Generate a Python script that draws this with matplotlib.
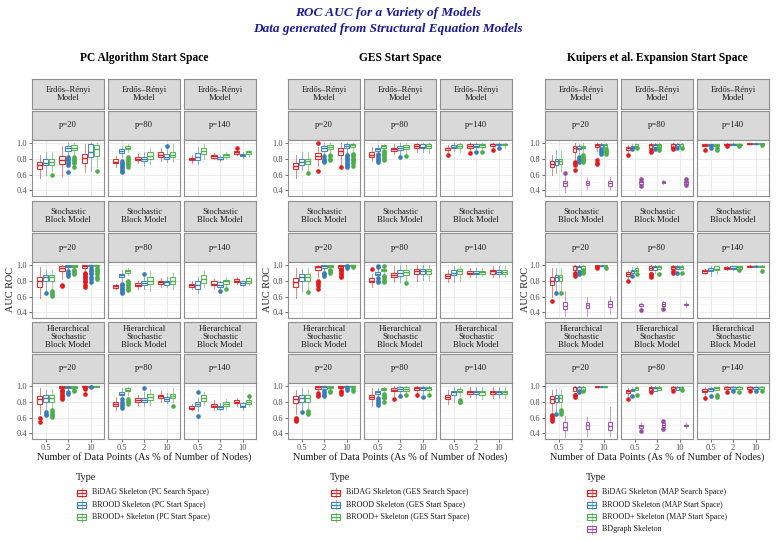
import matplotlib
matplotlib.use('Agg')
import matplotlib.pyplot as plt
from matplotlib.patches import Rectangle
from matplotlib.lines import Line2D

plt.rcParams['font.family'] = ['Liberation Serif', 'DejaVu Serif']

# ---------------- data ----------------
MODELS = ['Erdős–Rényi\nModel', 'Stochastic\nBlock Model', 'Hierarchical\nStochastic\nBlock Model']
P_LABELS = ['p=20', 'p=80', 'p=140']
N_LABELS = ['0.5', '2', '10']
SPACES = ['PC Algorithm Start Space', 'GES Start Space', 'Kuipers et al. Expansion Start Space']
COLORS = ['#E41A1C', '#377EB8', '#4DAF4A', '#984EA3']
LEGEND_PC = ['BiDAG Skeleton (PC Search Space)', 'BROOD Skeleton (PC Start Space)', 'BROOD+ Skeleton (PC Start Space)']
LEGEND_GES = ['BiDAG Skeleton (GES Search Space)', 'BROOD Skeleton (GES Start Space)', 'BROOD+ Skeleton (GES Start Space)']
LEGEND_K = ['BiDAG Skeleton (MAP Search Space)', 'BROOD Skeleton (MAP Start Space)', 'BROOD+ Skeleton (MAP Start Space)', 'BDgraph Skeleton']

# box stats: (whisker low, q1, median, q3, whisker high), indexed [p][n][type]
PC_ER = [
    [[(0.56,0.67,0.72,0.76,0.85),(0.60,0.72,0.75,0.79,0.88),(0.64,0.72,0.76,0.79,0.88)],
     [(0.58,0.73,0.78,0.83,0.96),(0.85,0.90,0.93,0.96,1.00),(0.86,0.91,0.94,0.97,1.00)],
     [(0.63,0.74,0.81,0.86,0.98),(0.65,0.82,0.89,0.98,1.00),(0.70,0.83,0.92,0.97,1.00)]],
    [[(0.70,0.74,0.76,0.79,0.83),(0.82,0.87,0.90,0.92,0.96),(0.88,0.92,0.94,0.96,0.99)],
     [(0.74,0.78,0.80,0.82,0.86),(0.71,0.77,0.80,0.82,0.88),(0.73,0.80,0.83,0.88,0.94)],
     [(0.77,0.82,0.85,0.88,0.93),(0.76,0.80,0.82,0.86,0.93),(0.76,0.82,0.85,0.89,0.98)]],
    [[(0.75,0.78,0.80,0.81,0.84),(0.73,0.78,0.82,0.87,0.95),(0.80,0.86,0.90,0.94,0.99)],
     [(0.79,0.81,0.83,0.85,0.87),(0.77,0.79,0.80,0.82,0.84),(0.80,0.82,0.84,0.86,0.88)],
     [(0.84,0.86,0.88,0.90,0.92),(0.81,0.83,0.85,0.86,0.88),(0.82,0.86,0.88,0.90,0.91)]],
]
PC_ER_OUT = {(0,0,2):[0.59], (0,1,1):[0.63,0.72,0.74,0.76,0.78,0.80,0.82],
             (0,1,2):[0.69,0.74,0.76,0.78,0.80,0.82], (0,2,2):[0.65],
             (1,0,1):[0.63,0.65,0.67,0.69,0.71,0.73,0.75,0.77],
             (1,0,2):[0.70,0.72,0.74,0.76,0.78,0.80,0.82], (1,2,1):[0.96], (2,2,0):[0.94]}

PC_SBM = [
    [[(0.58,0.72,0.79,0.85,0.97),(0.66,0.79,0.84,0.87,0.93),(0.68,0.79,0.84,0.87,0.94)],
     [(0.82,0.92,0.96,0.99,1.00),(0.95,0.97,0.99,1.00,1.00),(0.96,0.97,0.99,1.00,1.00)],
     [(0.92,0.96,0.99,1.00,1.00),(0.97,0.98,1.00,1.00,1.00),(0.97,0.98,1.00,1.00,1.00)]],
    [[(0.69,0.71,0.73,0.74,0.76),(0.80,0.84,0.87,0.89,0.93),(0.87,0.90,0.92,0.93,0.96)],
     [(0.70,0.73,0.75,0.77,0.80),(0.70,0.74,0.77,0.80,0.84),(0.67,0.76,0.80,0.84,0.92)],
     [(0.72,0.76,0.78,0.80,0.83),(0.72,0.75,0.78,0.80,0.84),(0.70,0.76,0.80,0.84,0.90)]],
    [[(0.70,0.72,0.74,0.76,0.79),(0.65,0.70,0.75,0.79,0.84),(0.72,0.77,0.82,0.87,0.92)],
     [(0.71,0.74,0.76,0.79,0.82),(0.69,0.72,0.75,0.78,0.80),(0.72,0.76,0.79,0.81,0.84)],
     [(0.76,0.78,0.80,0.82,0.84),(0.73,0.75,0.77,0.79,0.80),(0.74,0.77,0.80,0.83,0.86)]],
]
PC_SBM_OUT = {(0,0,1):[0.64], (0,0,2):[0.61,0.63,0.65,0.67], (0,1,0):[0.73,0.74],
              (0,1,1):[0.86,0.88,0.90,0.92], (0,1,2):[0.88,0.90,0.92,0.94],
              (0,2,0):[0.72,0.75,0.78,0.80,0.82,0.84,0.86,0.88,0.90],
              (0,2,1):[0.78,0.82,0.85,0.88,0.90,0.92,0.94,0.96],
              (0,2,2):[0.82,0.85,0.88,0.90,0.92,0.94,0.96],
              (1,0,1):[0.64,0.66,0.68,0.70,0.72,0.74,0.76],
              (1,0,2):[0.68,0.70,0.72,0.74,0.76,0.78,0.80], (1,1,1):[0.89],
              (2,1,1):[0.67], (2,1,2):[0.70]}

PC_HSBM = [
    [[(0.65,0.77,0.83,0.87,0.97),(0.71,0.79,0.84,0.88,0.95),(0.72,0.80,0.85,0.88,0.96)],
     [(0.96,0.97,0.99,1.00,1.00),(0.93,0.97,0.99,1.00,1.00),(0.96,0.97,0.99,1.00,1.00)],
     [(0.98,0.98,1.00,1.00,1.00),(0.99,0.99,1.00,1.00,1.00),(0.99,0.99,1.00,1.00,1.00)]],
    [[(0.69,0.75,0.77,0.80,0.86),(0.84,0.88,0.90,0.92,0.97),(0.89,0.93,0.95,0.97,0.99)],
     [(0.76,0.80,0.82,0.84,0.89),(0.74,0.79,0.82,0.85,0.92),(0.76,0.82,0.86,0.90,0.96)],
     [(0.79,0.84,0.87,0.89,0.94),(0.78,0.81,0.83,0.86,0.91),(0.79,0.84,0.87,0.90,0.97)]],
    [[(0.69,0.71,0.72,0.74,0.77),(0.68,0.74,0.77,0.80,0.85),(0.76,0.81,0.84,0.88,0.92)],
     [(0.70,0.73,0.75,0.77,0.82),(0.69,0.71,0.73,0.75,0.78),(0.71,0.74,0.77,0.80,0.83)],
     [(0.75,0.78,0.80,0.82,0.85),(0.70,0.73,0.75,0.78,0.80),(0.74,0.77,0.80,0.82,0.86)]],
]
PC_HSBM_OUT = {(0,0,0):[0.55,0.60], (0,0,1):[0.63,0.65,0.67], (0,0,2):[0.61,0.63,0.65,0.67,0.70],
               (0,1,0):[0.83,0.85,0.87,0.89,0.91,0.93,0.95], (0,1,1):[0.90,0.92], (0,1,2):[0.93,0.95],
               (0,2,0):[0.90,0.96,0.97], (0,2,1):[0.98],
               (1,0,1):[0.72,0.74,0.77,0.80,0.83], (1,0,2):[0.77,0.79,0.81,0.83], (1,1,1):[0.97],
               (1,2,2):[0.74], (2,0,1):[0.62,0.92], (2,2,2):[0.87]}

GES_ER = [
    [[(0.56,0.67,0.71,0.74,0.84),(0.66,0.72,0.76,0.79,0.89),(0.66,0.73,0.77,0.80,0.88)],
     [(0.71,0.80,0.83,0.87,0.95),(0.84,0.90,0.93,0.96,1.00),(0.87,0.92,0.95,0.97,1.00)],
     [(0.72,0.85,0.90,0.94,1.00),(0.86,0.93,0.96,0.99,1.00),(0.88,0.95,0.97,0.99,1.00)]],
    [[(0.77,0.82,0.85,0.88,0.95),(0.87,0.90,0.92,0.93,0.97),(0.92,0.94,0.96,0.97,0.99)],
     [(0.86,0.90,0.92,0.94,0.99),(0.85,0.91,0.93,0.96,1.00),(0.87,0.92,0.95,0.97,1.00)],
     [(0.88,0.93,0.96,0.98,1.00),(0.88,0.93,0.95,0.98,1.00),(0.87,0.93,0.96,0.98,1.00)]],
    [[(0.88,0.91,0.93,0.94,0.97),(0.90,0.93,0.95,0.97,1.00),(0.89,0.93,0.96,0.99,1.00)],
     [(0.90,0.94,0.96,0.98,1.00),(0.92,0.95,0.96,0.98,1.00),(0.91,0.95,0.97,0.98,1.00)],
     [(0.93,0.96,0.98,0.99,1.00),(0.95,0.97,0.98,0.99,1.00),(0.94,0.97,0.98,0.99,1.00)]],
]
GES_ER_OUT = {(0,0,2):[0.62], (0,1,0):[0.65,1.00], (0,1,1):[0.76,0.78,0.80,0.83],
              (0,1,2):[0.78,0.80,0.83,0.85], (0,2,0):[0.70],
              (0,2,1):[0.69,0.71,0.73,0.75,0.77,0.79,0.81,0.83,0.85],
              (0,2,2):[0.71,0.74,0.76,0.78,0.80,0.82,0.84,0.86],
              (1,0,1):[0.76,0.78,0.80,0.82,0.84,0.86], (1,0,2):[0.78,0.80,0.82,0.84,0.86,0.88,0.90],
              (1,1,1):[0.82], (1,1,2):[0.83], (2,0,0):[0.85], (2,1,0):[0.87], (2,1,1):[0.89],
              (2,1,2):[0.88], (2,2,0):[0.91], (2,2,1):[0.93]}

GES_SBM = [
    [[(0.58,0.72,0.78,0.83,0.96),(0.67,0.79,0.84,0.88,0.95),(0.70,0.80,0.85,0.88,0.96)],
     [(0.84,0.93,0.97,0.99,1.00),(0.92,0.96,0.98,1.00,1.00),(0.95,0.97,0.98,1.00,1.00)],
     [(0.96,0.96,0.99,1.00,1.00),(0.99,0.99,1.00,1.00,1.00),(0.99,0.99,1.00,1.00,1.00)]],
    [[(0.72,0.78,0.80,0.83,0.89),(0.83,0.87,0.89,0.91,0.95),(0.88,0.92,0.93,0.95,0.98)],
     [(0.78,0.84,0.87,0.90,0.99),(0.78,0.86,0.90,0.93,1.00),(0.80,0.87,0.91,0.94,1.00)],
     [(0.80,0.88,0.92,0.95,1.00),(0.81,0.88,0.92,0.95,1.00),(0.81,0.88,0.92,0.95,1.00)]],
    [[(0.78,0.83,0.86,0.88,0.93),(0.78,0.87,0.90,0.93,0.99),(0.80,0.88,0.92,0.95,0.99)],
     [(0.85,0.88,0.90,0.92,0.96),(0.85,0.88,0.90,0.92,0.96),(0.86,0.89,0.91,0.92,0.96)],
     [(0.84,0.89,0.92,0.94,0.99),(0.84,0.89,0.91,0.94,0.98),(0.84,0.89,0.91,0.94,0.98)]],
]
GES_SBM_OUT = {(0,0,2):[0.66], (0,1,0):[0.70,0.73,0.76,0.78,0.80], (0,1,1):[0.86,0.88,0.90],
               (0,1,2):[0.90,0.92,0.94], (0,2,0):[0.84,0.86,0.88,0.90,0.92,0.94,0.95],
               (0,2,1):[0.96,0.98], (0,2,2):[0.97], (1,0,0):[0.95],
               (1,0,1):[0.78,0.80,0.83,0.97,0.98], (1,0,2):[0.78,0.80,0.82,0.84,0.86,0.99],
               (1,1,2):[0.77]}

GES_HSBM = [
    [[(0.65,0.78,0.83,0.87,0.95),(0.68,0.79,0.84,0.88,0.97),(0.68,0.80,0.85,0.88,0.96)],
     [(0.92,0.96,0.98,1.00,1.00),(0.94,0.96,0.98,1.00,1.00),(0.96,0.97,0.99,1.00,1.00)],
     [(0.96,0.97,0.99,1.00,1.00),(0.99,0.99,1.00,1.00,1.00),(0.99,0.99,1.00,1.00,1.00)]],
    [[(0.74,0.83,0.86,0.89,0.97),(0.86,0.90,0.92,0.94,0.97),(0.93,0.95,0.96,0.97,0.99)],
     [(0.87,0.93,0.95,0.97,1.00),(0.88,0.93,0.96,0.98,1.00),(0.90,0.94,0.96,0.98,1.00)],
     [(0.91,0.95,0.97,0.99,1.00),(0.90,0.95,0.97,0.99,1.00),(0.90,0.95,0.97,0.99,1.00)]],
    [[(0.77,0.83,0.86,0.88,0.95),(0.80,0.89,0.92,0.94,0.99),(0.87,0.92,0.94,0.96,0.99)],
     [(0.86,0.90,0.92,0.94,0.98),(0.85,0.90,0.92,0.94,0.98),(0.83,0.89,0.92,0.94,0.98)],
     [(0.85,0.90,0.92,0.94,0.98),(0.85,0.90,0.92,0.94,0.98),(0.85,0.90,0.92,0.94,0.98)]],
]
GES_HSBM_OUT = {(0,0,0):[0.56,0.57,0.58,0.60], (0,0,1):[0.67], (0,0,2):[0.65,0.66,0.68],
                (0,1,0):[0.87,0.89,0.91], (0,1,1):[0.87,0.89,0.91,0.93], (0,1,2):[0.92,0.94],
                (0,2,0):[0.90,0.92,0.94], (0,2,1):[0.95,0.97], (0,2,2):[0.94,0.96],
                (1,0,1):[0.76,0.78,0.80,0.82,0.84], (1,0,2):[0.80,0.84,0.86,0.88,0.90],
                (1,1,0):[0.83], (1,1,1):[0.87], (1,1,2):[0.88], (1,2,0):[0.88], (1,2,1):[0.86],
                (1,2,2):[0.88], (2,0,2):[0.79,0.80,0.82]}

K_ER = [
    [[(0.59,0.69,0.73,0.77,0.85),(0.62,0.72,0.77,0.80,0.91),(0.64,0.73,0.77,0.80,0.90),(0.38,0.46,0.49,0.52,0.60)],
     [(0.80,0.89,0.93,0.96,1.00),(0.86,0.92,0.94,0.96,0.99),(0.88,0.93,0.95,0.96,1.00),(0.42,0.47,0.49,0.52,0.56)],
     [(0.90,0.95,0.97,0.99,1.00),(0.93,0.93,0.97,0.99,1.00),(0.94,0.94,0.97,0.99,1.00),(0.42,0.46,0.49,0.52,0.57)]],
    [[(0.88,0.91,0.93,0.95,0.97),(0.92,0.93,0.95,0.96,0.98),(0.92,0.94,0.96,0.98,0.99),(0.47,0.48,0.50,0.52,0.54)],
     [(0.93,0.93,0.97,0.98,1.00),(0.95,0.95,0.97,0.99,1.00),(0.95,0.95,0.97,0.99,1.00),(0.48,0.49,0.50,0.52,0.53)],
     [(0.95,0.95,0.98,0.99,1.00),(0.96,0.96,0.98,0.99,1.00),(0.95,0.95,0.98,0.99,1.00),(0.46,0.48,0.50,0.52,0.54)]],
    [[(0.96,0.96,0.97,0.98,0.99),(0.96,0.96,0.97,0.98,0.99),(0.96,0.96,0.97,0.98,0.99),None],
     [(0.97,0.97,0.98,0.99,1.00),(0.97,0.97,0.98,0.99,1.00),(0.97,0.97,0.98,0.99,1.00),None],
     [(0.98,0.98,0.99,1.00,1.00),(0.98,0.98,0.99,0.995,1.00),(0.98,0.98,0.99,0.995,1.00),None]],
]
K_ER_OUT = {(0,0,3):[0.62], (0,1,0):[0.66,0.72,0.74,0.76], (0,1,1):[0.76,0.78,0.80,0.82],
            (0,1,2):[0.76,0.78,0.80,0.82,0.84], (0,2,0):[0.73,0.75,0.78],
            (0,2,1):[0.86,0.88,0.90,0.92], (0,2,2):[0.86,0.88,0.90,0.92],
            (1,0,0):[0.84], (1,0,1):[0.92], (1,0,2):[0.93], (1,0,3):[0.45,0.55],
            (1,1,0):[0.89,0.91], (1,1,1):[0.92], (1,1,2):[0.91,0.93], (1,2,0):[0.92,0.94],
            (1,2,1):[0.93], (1,2,2):[0.93], (1,2,3):[0.47,0.55],
            (2,0,0):[0.91], (2,0,1):[0.93], (2,0,2):[0.91,0.93], (2,1,0):[0.96],
            (2,1,2):[0.96], (2,2,2):[0.97]}

K_SBM = [
    [[(0.60,0.74,0.80,0.84,0.96),(0.67,0.79,0.84,0.87,0.96),(0.66,0.79,0.84,0.87,0.96),(0.36,0.44,0.48,0.53,0.67)],
     [(0.91,0.94,0.98,0.99,1.00),(0.93,0.93,0.97,0.99,1.00),(0.95,0.95,0.98,0.99,1.00),(0.35,0.45,0.49,0.52,0.60)],
     [(0.97,0.97,0.99,1.00,1.00),(0.98,0.98,0.99,1.00,1.00),(0.98,0.98,0.99,1.00,1.00),(0.38,0.47,0.50,0.54,0.61)]],
    [[(0.82,0.86,0.89,0.91,0.94),(0.87,0.90,0.92,0.94,0.97),(0.90,0.92,0.94,0.96,0.98),(0.46,0.48,0.50,0.51,0.52)],
     [(0.94,0.94,0.96,0.98,1.00),(0.90,0.94,0.97,0.98,1.00),(0.95,0.95,0.97,0.99,1.00),(0.46,0.48,0.51,0.53,0.54)],
     [(0.95,0.95,0.97,0.99,1.00),(0.95,0.95,0.97,0.99,1.00),(0.95,0.95,0.97,0.99,1.00),(0.47,0.49,0.50,0.51,0.54)]],
    [[(0.88,0.90,0.92,0.94,0.95),(0.86,0.92,0.94,0.96,0.98),(0.88,0.93,0.95,0.98,0.99),None],
     [(0.94,0.95,0.96,0.97,0.98),(0.93,0.95,0.96,0.98,0.99),(0.95,0.95,0.97,0.98,0.99),None],
     [(0.97,0.97,0.98,0.99,1.00),(0.97,0.97,0.98,0.99,1.00),(0.97,0.97,0.98,0.99,1.00),None]],
]
K_SBM_OUT = {(0,0,0):[0.55], (0,0,1):[0.64], (0,0,2):[0.64], (0,1,0):[0.86,0.88,0.90],
             (0,1,1):[0.88,0.90,0.91], (0,1,2):[0.90,0.92,0.93], (0,2,0):[0.96], (0,2,2):[0.96],
             (1,0,0):[0.80], (1,0,1):[0.86], (1,0,2):[0.89], (1,0,3):[0.43],
             (1,1,0):[0.84,0.86,0.88,0.89], (1,1,2):[0.88], (1,1,3):[0.44],
             (1,2,0):[0.90,0.92], (1,2,1):[0.90], (1,2,2):[0.90], (2,1,2):[0.93], (2,2,2):[0.92]}

K_HSBM = [
    [[(0.66,0.78,0.83,0.87,0.95),(0.68,0.79,0.85,0.88,0.96),(0.70,0.80,0.85,0.88,0.96),(0.36,0.44,0.48,0.54,0.62)],
     [(0.94,0.94,0.98,0.99,1.00),(0.94,0.94,0.98,0.99,1.00),(0.94,0.94,0.98,0.99,1.00),(0.37,0.45,0.50,0.55,0.61)],
     [(0.98,0.98,0.99,1.00,1.00),(0.98,0.98,0.99,1.00,1.00),(0.98,0.98,0.99,1.00,1.00),(0.37,0.44,0.49,0.55,0.73)]],
    [[(0.87,0.91,0.93,0.95,0.97),(0.93,0.93,0.95,0.96,0.98),(0.95,0.95,0.97,0.98,0.99),(0.44,0.47,0.49,0.51,0.53)],
     [(0.94,0.94,0.97,0.99,1.00),(0.94,0.94,0.97,0.99,1.00),(0.95,0.95,0.97,0.99,1.00),(0.45,0.48,0.51,0.53,0.56)],
     [(0.96,0.96,0.98,0.99,1.00),(0.95,0.95,0.98,0.99,1.00),(0.95,0.95,0.98,0.99,1.00),(0.47,0.49,0.50,0.51,0.53)]],
    [[(0.89,0.92,0.94,0.96,0.98),(0.94,0.94,0.96,0.97,0.98),(0.95,0.95,0.97,0.98,0.99),None],
     [(0.96,0.96,0.98,0.99,1.00),(0.96,0.96,0.98,0.99,1.00),(0.96,0.96,0.98,0.99,1.00),None],
     [(0.96,0.96,0.98,0.99,1.00),(0.96,0.96,0.98,0.99,1.00),(0.96,0.96,0.98,0.99,1.00),None]],
]
K_HSBM_OUT = {(0,0,0):[0.56,0.58,0.60,0.62,0.63], (0,0,1):[0.64], (0,0,2):[0.65,0.67,0.69],
              (0,1,0):[0.86,0.88,0.89], (0,1,1):[0.92,0.93], (0,1,2):[0.93],
              (1,0,0):[0.83], (1,0,1):[0.87], (1,0,2):[0.88], (1,0,3):[0.43], (1,1,0):[0.92],
              (1,1,3):[0.46,0.56], (1,2,0):[0.94], (1,2,2):[0.95],
              (2,0,0):[0.85], (2,0,1):[0.87], (2,0,2):[0.86,0.88], (2,1,0):[0.92], (2,1,1):[0.93],
              (2,1,2):[0.92], (2,2,0):[0.93], (2,2,1):[0.94], (2,2,2):[0.94]}

BLOCKS = [
    ([PC_ER, PC_SBM, PC_HSBM], [PC_ER_OUT, PC_SBM_OUT, PC_HSBM_OUT], LEGEND_PC),
    ([GES_ER, GES_SBM, GES_HSBM], [GES_ER_OUT, GES_SBM_OUT, GES_HSBM_OUT], LEGEND_GES),
    ([K_ER, K_SBM, K_HSBM], [K_ER_OUT, K_SBM_OUT, K_HSBM_OUT], LEGEND_K),
]

# ---------------- layout (pixels) ----------------
W, H = 776, 541
fig = plt.figure(figsize=(W / 100, H / 100), dpi=100)
BLOCK_LEFT = [32, 288, 545]
PANEL_W, PANEL_STEP = 72, 76
ROW_TOP = [79, 201, 322]
STRIP1_H, STRIP2_TOP, STRIP2_H, PLOT_TOP, PLOT_H = 30, 32, 29, 61, 56
STRIP_FC, BORDER = '#D9D9D9', '#8F8F8F'
TXT = '#1A1A1A'
TICK_C = '#4D4D4D'


def ax_px(x0, y0, w, h):
    return fig.add_axes([x0 / W, 1 - (y0 + h) / H, w / W, h / H])


def strip(x0, y0, w, h, label):
    a = ax_px(x0, y0, w, h)
    a.set_facecolor(STRIP_FC)
    a.set_xticks([]); a.set_yticks([])
    for s in a.spines.values():
        s.set_color(BORDER); s.set_linewidth(0.8)
    a.text(0.5, 0.5, label, ha='center', va='center', fontsize=6.2, color=TXT,
           linespacing=1.05, transform=a.transAxes)


def draw_panel(ax, boxes, outs, pi):
    for ni in range(3):
        present = [ti for ti, b in enumerate(boxes[pi][ni]) if b is not None]
        k = len(present)
        step = 0.8 / k if k == 3 else 0.75 / k
        for j, ti in enumerate(present):
            lo, q1, med, q3, hi = boxes[pi][ni][ti]
            col = COLORS[ti]
            x = ni + 1 + (j - (k - 1) / 2) * step
            st = [dict(whislo=lo, q1=q1, med=med, q3=q3, whishi=hi,
                       fliers=outs.get((pi, ni, ti), []))]
            ax.bxp(st, positions=[x], widths=[step * 0.85], patch_artist=True,
                   showcaps=False, manage_ticks=False,
                   boxprops=dict(facecolor='white', edgecolor=col, linewidth=0.8, alpha=0.9),
                   medianprops=dict(color=col, linewidth=1.0),
                   whiskerprops=dict(color=col, linewidth=0.7, alpha=0.55),
                   flierprops=dict(marker='o', markerfacecolor=col, markeredgecolor=col,
                                   markersize=2.3, linestyle='none'),
                   zorder=3)


for bi, (models, outs_list, legend) in enumerate(BLOCKS):
    left = BLOCK_LEFT[bi]
    for mi in range(3):
        top = ROW_TOP[mi]
        for pi in range(3):
            x0 = left + pi * PANEL_STEP
            strip(x0, top, PANEL_W, STRIP1_H, MODELS[mi])
            strip(x0, top + STRIP2_TOP, PANEL_W, STRIP2_H, P_LABELS[pi])
            ax = ax_px(x0, top + PLOT_TOP, PANEL_W, PLOT_H)
            ax.set_xlim(0.4, 3.6)
            ax.set_ylim(0.33, 1.035)
            ax.set_yticks([0.4, 0.6, 0.8, 1.0])
            ax.set_yticks([0.5, 0.7, 0.9], minor=True)
            ax.set_xticks([1, 2, 3])
            ax.grid(True, which='major', color='#EBEBEB', linewidth=0.7, zorder=0)
            ax.grid(True, which='minor', axis='y', color='#F3F3F3', linewidth=0.4, zorder=0)
            ax.set_axisbelow(True)
            for s in ax.spines.values():
                s.set_color(BORDER); s.set_linewidth(0.8)
            ax.tick_params(which='minor', length=0)
            ax.tick_params(which='major', length=2, width=0.5, color='#333333',
                           labelsize=6, labelcolor=TICK_C, pad=1.5)
            if pi == 0:
                ax.set_yticklabels(['0.4', '0.6', '0.8', '1.0'])
            else:
                ax.tick_params(axis='y', length=0, labelleft=False)
            if mi == 2:
                ax.set_xticklabels(N_LABELS)
            else:
                ax.tick_params(axis='x', length=0, labelbottom=False)
            draw_panel(ax, models[mi], outs_list[mi], pi)

# ---------------- overlay texts & legends ----------------
ov = fig.add_axes([0, 0, 1, 1], zorder=10)
ov.set_xlim(0, W); ov.set_ylim(H, 0); ov.axis('off')
ov.patch.set_alpha(0)

ov.text(388, 13, 'ROC AUC for a Variety of Models', ha='center', va='center',
        fontsize=9.5, fontweight='bold', fontstyle='italic', color='#1A1A9E')
ov.text(388, 29, 'Data generated from Structural Equation Models', ha='center', va='center',
        fontsize=9.5, fontweight='bold', fontstyle='italic', color='#1A1A9E')

YLAB_X = [11, 267, 525]
LEG_X = [77, 331, 587]
for bi in range(3):
    left = BLOCK_LEFT[bi]
    cx = left + (2 * PANEL_STEP + PANEL_W) / 2
    ov.text(cx, 58, SPACES[bi], ha='center', va='center', fontsize=8.3,
            fontweight='bold', color='black')
    ov.text(cx, 457, 'Number of Data Points (As % of Number of Nodes)', ha='center',
            va='center', fontsize=7.4, color=TXT)
    ov.text(YLAB_X[bi], 290, 'AUC ROC', ha='center', va='center', rotation=90,
            fontsize=7.4, color=TXT)
    legend = BLOCKS[bi][2]
    lx = LEG_X[bi]
    ov.text(lx - 1, 478, 'Type', ha='left', va='center', fontsize=7.4, color=TXT)
    for li, lab in enumerate(legend):
        y = 492.5 + li * 12.3
        col = COLORS[li]
        ov.add_line(Line2D([lx + 4.5, lx + 4.5], [y - 4.5, y + 4.5], color=col, lw=0.7, alpha=0.55))
        ov.add_patch(Rectangle((lx, y - 3), 9, 6, facecolor='white', edgecolor=col, lw=0.8))
        ov.add_line(Line2D([lx, lx + 9], [y, y], color=col, lw=0.9))
        ov.text(lx + 15, y, lab, ha='left', va='center', fontsize=5.8, color=TXT)

fig.savefig('out.png', dpi=100)
